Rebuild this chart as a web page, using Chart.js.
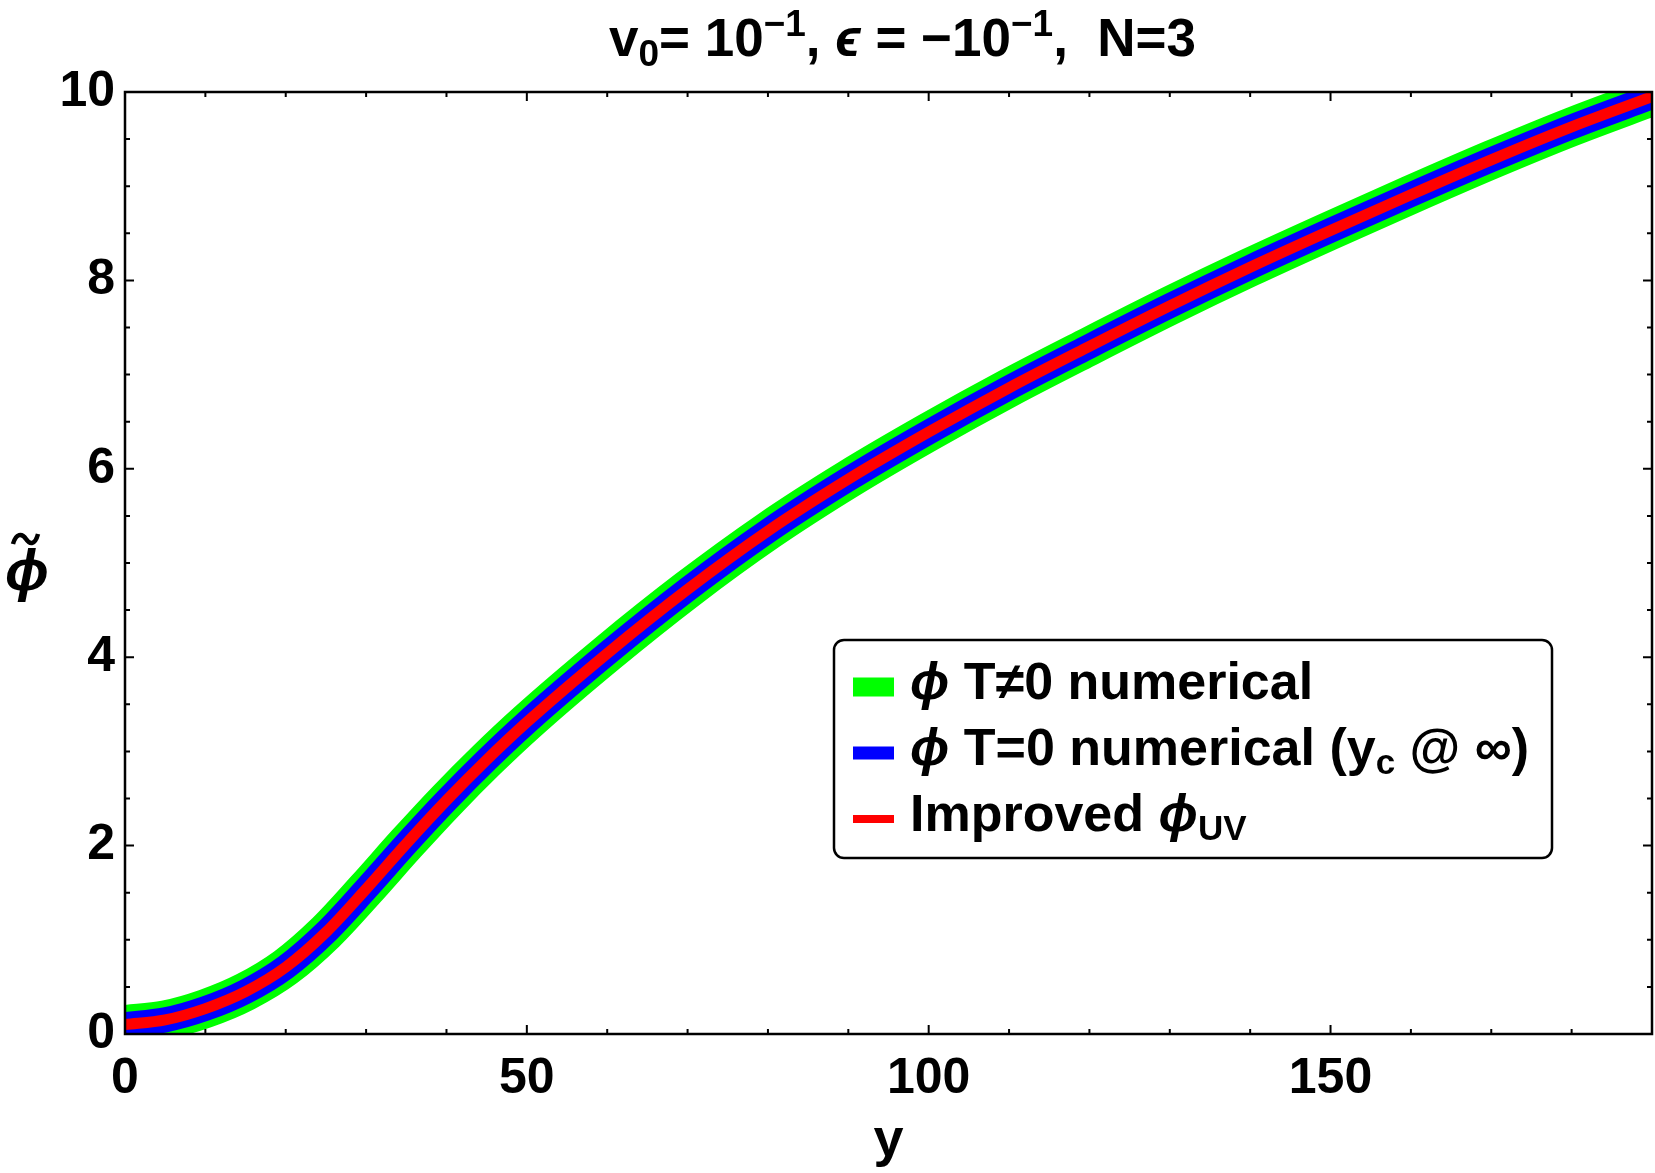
<!DOCTYPE html>
<html>
<head>
<meta charset="utf-8">
<script src="https://cdn.jsdelivr.net/npm/chart.js@4.4.0/dist/chart.umd.min.js"></script>
<style>
  html, body { margin: 0; padding: 0; background: #fff; }
</style>
</head>
<body>
<canvas id="c" width="1655" height="1173"></canvas>
<script>
// values (horizontal axis is "y", vertical is phi~)
const yValues = [0, 5, 10, 15, 20, 25, 30, 35, 40, 45, 50, 60, 70, 80, 90, 100, 110, 120, 130, 140, 150, 160, 170, 180, 190];
const phiTnonzero = [0.10, 0.15, 0.27, 0.45, 0.71, 1.08, 1.54, 2.02, 2.48, 2.91, 3.31, 4.04, 4.72, 5.34, 5.89, 6.39, 6.86, 7.30, 7.73, 8.14, 8.53, 8.91, 9.28, 9.63, 9.95];
const phiTzero    = [0.10, 0.15, 0.27, 0.45, 0.71, 1.08, 1.54, 2.02, 2.48, 2.91, 3.31, 4.04, 4.72, 5.34, 5.89, 6.39, 6.86, 7.30, 7.73, 8.14, 8.53, 8.91, 9.28, 9.63, 9.95];
const phiUV       = [0.10, 0.15, 0.27, 0.45, 0.71, 1.08, 1.54, 2.02, 2.48, 2.91, 3.31, 4.04, 4.72, 5.34, 5.89, 6.39, 6.86, 7.30, 7.73, 8.14, 8.53, 8.91, 9.28, 9.63, 9.95];

const xTicks = [0, 50, 100, 150];
const yTicks = [0, 2, 4, 6, 8, 10];

const FONT = '"Liberation Sans", Arial, "DejaVu Sans", sans-serif';

function pts(arr) {
    return yValues.map((v, i) => ({ x: v, y: arr[i] }));
}

function fontOf(p) {
    return (p.it ? 'italic ' : '') + 'bold ' + p.s + 'px ' + FONT;
}

// draws a row of text pieces (sub/superscripts, italics)
function richText(ctx, parts, x, y, align) {
    let w = 0;
    parts.forEach(p => { ctx.font = fontOf(p); p.w = ctx.measureText(p.t).width; w += p.w; });
    let cx = align === 'center' ? x - w / 2 : x;
    ctx.textAlign = 'left';
    ctx.textBaseline = 'alphabetic';
    parts.forEach(p => {
        ctx.font = fontOf(p);
        ctx.fillText(p.t, cx, y + (p.dy || 0));
        cx += p.w;
    });
}

const decor = {
    id: 'decor',
    afterDraw(chart) {
        const { ctx, chartArea: a, scales: { x, y } } = chart;
        ctx.save();
        ctx.fillStyle = '#000';
        ctx.strokeStyle = '#000';

        // frame
        ctx.lineWidth = 2.5;
        ctx.strokeRect(a.left, a.top, a.right - a.left, a.bottom - a.top);

        // inward ticks on all four sides
        ctx.lineWidth = 2;
        ctx.beginPath();
        for (let v = 0; v <= 190; v += 10) {
            const px = x.getPixelForValue(v);
            const len = v % 50 === 0 ? 9 : 5;
            ctx.moveTo(px, a.bottom); ctx.lineTo(px, a.bottom - len);
            ctx.moveTo(px, a.top); ctx.lineTo(px, a.top + len);
        }
        for (let v = 0; v <= 10; v += 0.5) {
            const py = y.getPixelForValue(v);
            const len = v % 2 === 0 ? 9 : 5;
            ctx.moveTo(a.left, py); ctx.lineTo(a.left + len, py);
            ctx.moveTo(a.right, py); ctx.lineTo(a.right - len, py);
        }
        ctx.stroke();

        // title
        const cx = (a.left + a.right) / 2 + 14;
        richText(ctx, [
            { t: 'v', s: 53 },
            { t: '0', s: 37, dy: 10 },
            { t: '= 10', s: 53 },
            { t: '\u22121', s: 37, dy: -20 },
            { t: ', ', s: 53 },
            { t: '\u03f5', s: 53, it: true },
            { t: ' = \u221210', s: 53 },
            { t: '\u22121', s: 37, dy: -20 },
            { t: ',  N=3', s: 53 }
        ], cx, 56, 'center');

        // axis titles
        ctx.textAlign = 'center';
        ctx.textBaseline = 'alphabetic';
        ctx.font = 'bold 54px ' + FONT;
        ctx.fillText('y', (a.left + a.right) / 2, 1156);
        ctx.font = 'italic bold 58px ' + FONT;
        ctx.fillText('\u03d5', 27, 590);
        ctx.lineWidth = 4.5;
        ctx.beginPath();
        ctx.moveTo(13, 544);
        ctx.bezierCurveTo(16, 533, 22, 533, 26, 539);
        ctx.bezierCurveTo(30, 545, 35, 545, 38, 534);
        ctx.stroke();

        // legend
        const bx = 834, by = 640, bw = 718, bh = 218, r = 10;
        ctx.fillStyle = '#fff';
        ctx.lineWidth = 2.5;
        ctx.beginPath();
        ctx.moveTo(bx + r, by);
        ctx.arcTo(bx + bw, by, bx + bw, by + bh, r);
        ctx.arcTo(bx + bw, by + bh, bx, by + bh, r);
        ctx.arcTo(bx, by + bh, bx, by, r);
        ctx.arcTo(bx, by, bx + bw, by, r);
        ctx.closePath();
        ctx.fill();
        ctx.stroke();

        const rows = [
            { c: '#00ff00', h: 19, cy: 687, parts: [{ t: '\u03d5', s: 52, it: true }, { t: ' T\u22600 numerical', s: 52 }] },
            { c: '#0000ff', h: 13, cy: 753, parts: [{ t: '\u03d5', s: 52, it: true }, { t: ' T=0 numerical (y', s: 52 }, { t: 'c', s: 35, dy: 9 }, { t: ' @ \u221e)', s: 52 }] },
            { c: '#ff0000', h: 8, cy: 819, parts: [{ t: 'Improved ', s: 52 }, { t: '\u03d5', s: 52, it: true }, { t: 'UV', s: 35, dy: 9 }] }
        ];
        rows.forEach(row => {
            ctx.fillStyle = row.c;
            ctx.fillRect(853, row.cy - row.h / 2, 41, row.h);
            ctx.fillStyle = '#000';
            richText(ctx, row.parts, 910, row.cy + 12, 'left');
        });

        ctx.restore();
    }
};

const layoutPad = { left: 60, top: 60, right: 3, bottom: 70 };

const chart = new Chart(document.getElementById('c'), {
    type: 'line',
    data: {
        datasets: [
            { label: 'phi T!=0 numerical', data: pts(phiTnonzero), borderColor: '#00ff00', borderWidth: 39, order: 3 },
            { label: 'phi T=0 numerical (yc @ inf)', data: pts(phiTzero), borderColor: '#0000ff', borderWidth: 25, order: 2 },
            { label: 'Improved phi UV', data: pts(phiUV), borderColor: '#ff0000', borderWidth: 11, order: 1 }
        ]
    },
    options: {
        responsive: false,
        animation: false,
        devicePixelRatio: 1,
        layout: { padding: layoutPad, autoPadding: false },
        elements: {
            point: { radius: 0 },
            line: { cubicInterpolationMode: 'monotone', fill: false }
        },
        datasets: { line: { clip: 0 } },
        plugins: {
            legend: { display: false },
            tooltip: { enabled: false },
            title: { display: false }
        },
        scales: {
            x: {
                type: 'linear',
                min: 0,
                max: 190,
                afterBuildTicks: s => { s.ticks = xTicks.map(v => ({ value: v })); },
                afterFit: s => { s.paddingRight = 0; },
                grid: { display: false, drawTicks: false },
                border: { display: false },
                ticks: { color: '#000', padding: 15, maxRotation: 0, font: { family: FONT, size: 50, weight: 'bold' } }
            },
            y: {
                type: 'linear',
                min: 0,
                max: 10,
                afterBuildTicks: s => { s.ticks = yTicks.map(v => ({ value: v })); },
                grid: { display: false, drawTicks: false },
                border: { display: false },
                ticks: { color: '#000', padding: 10, font: { family: FONT, size: 50, weight: 'bold' } }
            }
        }
    },
    plugins: [decor]
});

// nudge the padding so the plot frame lands where it is in the original
const ca = chart.chartArea;
layoutPad.left += 125 - ca.left;
layoutPad.top += 92 - ca.top;
layoutPad.right += ca.right - 1652;
layoutPad.bottom += ca.bottom - 1034;
chart.update();
</script>
</body>
</html>
